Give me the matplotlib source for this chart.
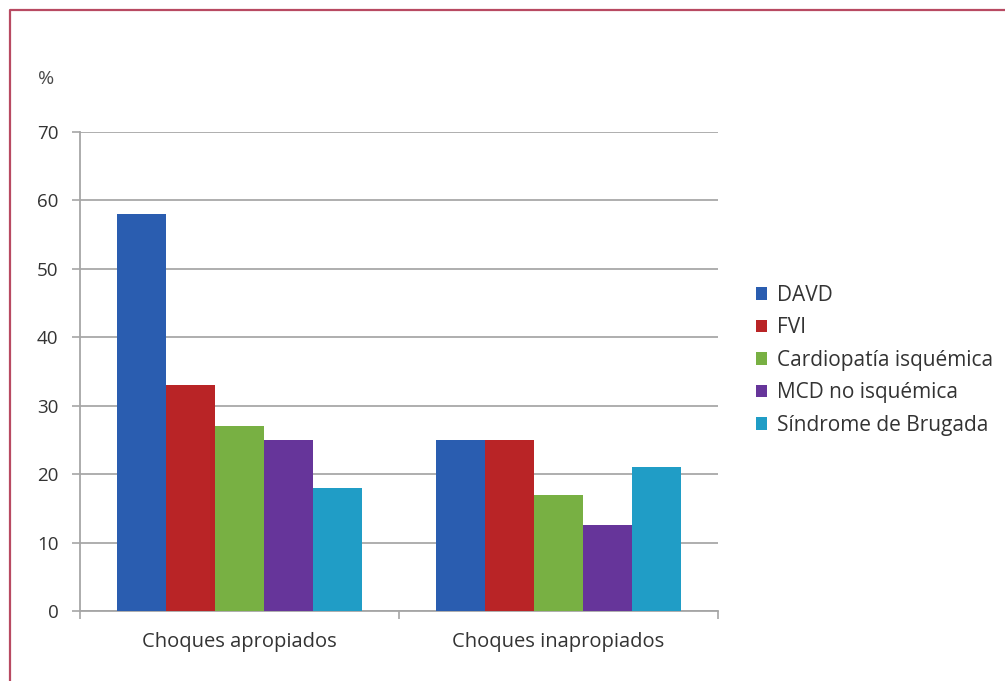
import matplotlib
matplotlib.use("Agg")
import matplotlib.pyplot as plt
import numpy as np
from matplotlib.patches import Patch
from matplotlib.lines import Line2D

plt.rcParams['font.family'] = ['Open Sans', 'DejaVu Sans']

# Shock percentages per cardiopathy
groups = ['Choques apropiados', 'Choques inapropiados']
series = ['DAVD', 'FVI', 'Cardiopatía isquémica', 'MCD no isquémica', 'Síndrome de Brugada']
davd = [58, 25]
fvi = [33, 25]
cardiopatia = [27, 17]
mcd = [25, 12.5]
brugada = [18, 21]
yticks = [0, 10, 20, 30, 40, 50, 60, 70]

values = [davd, fvi, cardiopatia, mcd, brugada]
colors = ['#2a5db0', '#b92426', '#78b043', '#66359a', '#209dc6']
text_color = '#333333'
axis_color = '#a6a6a6'

fig = plt.figure(figsize=(10.05, 6.81), dpi=100)
W, H = 1005, 681
ax = fig.add_axes([80 / W, 70 / H, 638 / W, 479 / H])

x = np.arange(len(groups))
width = 0.153
for i, (vals, col) in enumerate(zip(values, colors)):
    ax.bar(x + (i - 2) * width, vals, width, color=col, label=series[i], zorder=3)

ax.set_xlim(-0.5, 1.5)
ax.set_ylim(0, 70)
ax.set_yticks(yticks)
ax.set_yticklabels([str(t) for t in yticks], fontsize=13.5, color=text_color)
ax.set_xticks(x)
ax.set_xticklabels(groups, fontsize=14.5, color=text_color)
ax.tick_params(axis='x', length=0, pad=15)
ax.set_xticks([-0.5, 0.5, 1.5], minor=True)
ax.tick_params(axis='x', which='minor', length=6, color=axis_color, width=1.2)
ax.tick_params(axis='y', length=5.5, color=axis_color, width=1.2, pad=10)

ax.grid(axis='y', color='#a8a8a8', linewidth=1.3, zorder=0)
for s in ['top', 'right']:
    ax.spines[s].set_visible(False)
for s in ['left', 'bottom']:
    ax.spines[s].set_color(axis_color)
    ax.spines[s].set_linewidth(1.3)

fig.text(46 / W, 1 - 79 / H, '%', fontsize=14, color='#4a4a4a', ha='center', va='center')

handles = [Patch(facecolor=c, edgecolor='none') for c in colors]
fig.legend(handles, series, loc='upper left', bbox_to_anchor=(756 / W, 1 - 285 / H),
           frameon=False, fontsize=15, handlelength=0.55, handleheight=0.55,
           handletextpad=0.45, labelspacing=0.55, borderpad=0, borderaxespad=0,
           labelcolor=text_color)

# frame line around the figure (top and left edges)
fig.add_artist(Line2D([10 / W, 10 / W, 1.0], [0.0, 1 - 10 / H, 1 - 10 / H],
                      transform=fig.transFigure, color='#b84a62', linewidth=1.6))

fig.savefig('out.png', dpi=100)
